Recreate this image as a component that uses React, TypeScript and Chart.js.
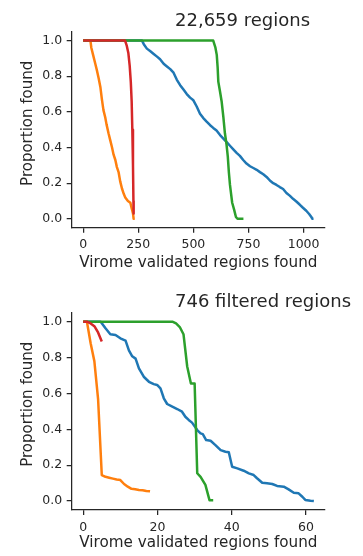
import React, { useEffect, useRef } from "react";
import { Chart, registerables } from "chart.js";

Chart.register(...registerables);

const FONT = "'DejaVu Sans', Verdana, sans-serif";
const INK = "#262626";
const BLUE = "#1f77b4";
const ORANGE = "#ff7f0e";
const GREEN = "#2ca02c";
const RED = "#d62728";

// shared
const yTicks = [0, 0.2, 0.4, 0.6, 0.8, 1.0];
const yRange = [-0.05, 1.05];
const xLabel = "Virome validated regions found";
const yLabel = "Proportion found";

// ---------- top panel: 22,659 regions ----------
const topTitle = "22,659 regions";
const topXTicks = [0, 250, 500, 750, 1000];
const topXRange = [-52, 1097];

const topBlueX = [0, 267, 275, 289, 305, 320, 335, 349, 365, 380, 395, 410, 425, 440, 455, 470, 485, 500, 515, 530, 545, 560, 576, 590, 605, 621, 636, 651, 666, 681, 696, 711, 726, 741, 757, 772, 787, 802, 817, 832, 847, 862, 877, 892, 907, 922, 937, 952, 967, 982, 997, 1012, 1025, 1035, 1040, 1045];
const topBlueY = [1, 1, 0.98, 0.955, 0.94, 0.925, 0.91, 0.895, 0.87, 0.855, 0.84, 0.82, 0.78, 0.75, 0.725, 0.7, 0.68, 0.665, 0.63, 0.59, 0.565, 0.545, 0.525, 0.51, 0.495, 0.47, 0.45, 0.43, 0.41, 0.39, 0.37, 0.353, 0.33, 0.31, 0.295, 0.285, 0.275, 0.262, 0.25, 0.235, 0.215, 0.2, 0.19, 0.178, 0.167, 0.145, 0.13, 0.112, 0.097, 0.08, 0.062, 0.045, 0.027, 0.01, 0, 0];

const topOrangeX = [0, 33, 37, 45, 55, 63, 70, 78, 85, 92, 100, 106, 115, 123, 131, 138, 146, 153, 161, 168, 176, 184, 191, 203, 214, 220, 226, 229, 234];
const topOrangeY = [1, 1, 0.96, 0.92, 0.87, 0.83, 0.79, 0.74, 0.67, 0.61, 0.57, 0.53, 0.48, 0.44, 0.4, 0.36, 0.33, 0.29, 0.26, 0.21, 0.17, 0.14, 0.12, 0.1, 0.09, 0.06, 0.03, 0, 0];

const topGreenX = [0, 590, 600, 606, 610, 613, 620, 628, 636, 643, 650, 656, 661, 666, 671, 676, 685, 693, 700, 727];
const topGreenY = [1, 1, 0.96, 0.92, 0.85, 0.77, 0.72, 0.66, 0.57, 0.48, 0.42, 0.35, 0.26, 0.19, 0.14, 0.09, 0.05, 0.01, 0, 0];

const topRedX = [0, 190, 198, 205, 211, 216, 220, 223, 226, 228, 229];
const topRedY = [1, 1, 0.97, 0.93, 0.86, 0.77, 0.66, 0.5, 0.3, 0.1, 0.03];

// ---------- bottom panel: 746 filtered regions ----------
const botTitle = "746 filtered regions";
const botXTicks = [0, 20, 40, 60];
const botXRange = [-3.1, 65.1];

const botBlueX = [0, 4.7, 6, 7.3, 8.7, 10, 11.4, 12.3, 13.2, 14.1, 15, 16.3, 17.7, 19, 19.9, 20.8, 21.7, 22.6, 24, 25.3, 26.6, 27.5, 28.4, 29.3, 30.7, 31.6, 32.2, 33.1, 34.3, 35.6, 37, 38.3, 39.2, 40.1, 41.5, 43.2, 44.6, 45.9, 46.8, 48.2, 49.5, 50.9, 52.2, 54, 55.3, 56.7, 58, 59, 59.8, 61.2, 62.1];
const botBlueY = [1, 1, 0.963, 0.93, 0.926, 0.907, 0.894, 0.84, 0.807, 0.794, 0.74, 0.693, 0.665, 0.652, 0.647, 0.628, 0.573, 0.541, 0.526, 0.513, 0.498, 0.47, 0.452, 0.437, 0.396, 0.377, 0.373, 0.34, 0.336, 0.312, 0.284, 0.275, 0.272, 0.191, 0.182, 0.169, 0.154, 0.145, 0.127, 0.102, 0.099, 0.095, 0.084, 0.08, 0.065, 0.046, 0.043, 0.024, 0.006, 0.002, 0];

const botOrangeX = [0, 1, 2, 3, 4, 5, 6, 7, 8, 9, 10, 11, 12, 13, 14, 15, 16, 17, 18];
const botOrangeY = [1, 1, 0.88, 0.78, 0.57, 0.145, 0.135, 0.13, 0.125, 0.12, 0.117, 0.095, 0.08, 0.068, 0.066, 0.062, 0.06, 0.056, 0.054];

const botGreenX = [0, 24, 25, 26, 27, 28, 29, 30, 30.7, 31.6, 32.9, 34, 35];
const botGreenY = [1, 1, 0.99, 0.97, 0.93, 0.75, 0.655, 0.655, 0.155, 0.135, 0.09, 0.005, 0.005];

const botRedX = [0, 1, 2, 3, 4, 5];
const botRedY = [1, 1, 0.99, 0.975, 0.94, 0.89];

const pts = (xs: number[], ys: number[]) => xs.map((x, i) => ({ x, y: ys[i] }));

const textPlugin = {
  id: "panelText",
  afterDraw(chart: any, _args: any, opts: any) {
    const ctx = chart.ctx;
    ctx.save();
    ctx.fillStyle = INK;
    ctx.font = `${opts.titleSize}px ${FONT}`;
    ctx.textAlign = "left";
    ctx.textBaseline = "alphabetic";
    ctx.fillText(opts.title, opts.titleX, opts.titleY);
    ctx.translate(opts.ylabelX, opts.ylabelY);
    ctx.rotate(-Math.PI / 2);
    ctx.font = `15px ${FONT}`;
    ctx.textAlign = "center";
    ctx.fillText(opts.ylabel, 0, 0);
    ctx.restore();
  },
};

type PanelProps = {
  height: number;
  title: string;
  titleY: number;
  ylabelY: number;
  padTop: number;
  xHeight: number;
  xTitlePad: number;
  xTicks: number[];
  xRange: number[];
  series: { color: string; xs: number[]; ys: number[] }[];
};

function Panel(p: PanelProps) {
  const ref = useRef<HTMLCanvasElement>(null);
  useEffect(() => {
    if (!ref.current) return;
    const chart = new Chart(ref.current, {
      type: "line",
      data: {
        datasets: p.series.map((s) => ({
          data: pts(s.xs, s.ys),
          borderColor: s.color,
          backgroundColor: s.color,
          borderWidth: 2.5,
          pointRadius: 0,
          tension: 0,
          fill: false,
          borderJoinStyle: "round" as const,
        })),
      },
      options: {
        responsive: false,
        animation: false,
        events: [],
        layout: { padding: { top: p.padTop, right: 38, bottom: 0, left: 0 } },
        plugins: {
          legend: { display: false },
          tooltip: { enabled: false },
          title: { display: false },
          panelText: {
            title: p.title,
            titleX: 175,
            titleY: p.titleY,
            titleSize: 18,
            ylabel: yLabel,
            ylabelX: 31.7,
            ylabelY: p.ylabelY,
          },
        } as any,
        scales: {
          x: {
            type: "linear",
            min: p.xRange[0],
            max: p.xRange[1],
            afterBuildTicks: (scale: any) => {
              scale.ticks = p.xTicks.map((v) => ({ value: v }));
            },
            afterFit: (scale: any) => {
              scale.height = p.xHeight;
            },
            ticks: {
              color: INK,
              font: { family: FONT, size: 12.5 },
              padding: 5,
              maxRotation: 0,
              callback: (v: any) => String(v),
            },
            grid: {
              drawOnChartArea: false,
              drawTicks: true,
              tickLength: 5,
              color: INK,
              lineWidth: 1.25,
            },
            border: { color: INK, width: 1.25 },
            title: {
              display: true,
              text: xLabel,
              color: INK,
              font: { family: FONT, size: 15.2 },
              padding: { top: 0, bottom: p.xTitlePad },
            },
          },
          y: {
            type: "linear",
            min: yRange[0],
            max: yRange[1],
            afterBuildTicks: (scale: any) => {
              scale.ticks = yTicks.map((v) => ({ value: v }));
            },
            afterFit: (scale: any) => {
              scale.width = 71.7;
            },
            ticks: {
              color: INK,
              font: { family: FONT, size: 12.5 },
              padding: 4.5,
              callback: (v: any) => Number(v).toFixed(1),
            },
            grid: {
              drawOnChartArea: false,
              drawTicks: true,
              tickLength: 5,
              color: INK,
              lineWidth: 1.25,
            },
            border: { color: INK, width: 1.25 },
          },
        },
      },
      plugins: [textPlugin as any],
    });
    return () => chart.destroy();
  }, []);
  return <canvas ref={ref} width={363} height={p.height} style={{ display: "block", width: 363, height: p.height }} />;
}

export default function App() {
  return (
    <div style={{ position: "fixed", left: 0, top: 0, width: 363, height: 556, background: "#fff" }}>
      <Panel
        height={280}
        title={topTitle}
        titleY={26}
        ylabelY={123.3}
        padTop={31.7}
        xHeight={52.3}
        xTitlePad={7.9}
        xTicks={topXTicks}
        xRange={topXRange}
        series={[
          { color: RED, xs: topRedX, ys: topRedY },
          { color: GREEN, xs: topGreenX, ys: topGreenY },
          { color: ORANGE, xs: topOrangeX, ys: topOrangeY },
          { color: BLUE, xs: topBlueX, ys: topBlueY },
        ]}
      />
      <Panel
        height={276}
        title={botTitle}
        titleY={27}
        ylabelY={124.2}
        padTop={32.7}
        xHeight={46}
        xTitlePad={3.9}
        xTicks={botXTicks}
        xRange={botXRange}
        series={[
          { color: RED, xs: botRedX, ys: botRedY },
          { color: GREEN, xs: botGreenX, ys: botGreenY },
          { color: ORANGE, xs: botOrangeX, ys: botOrangeY },
          { color: BLUE, xs: botBlueX, ys: botBlueY },
        ]}
      />
    </div>
  );
}
